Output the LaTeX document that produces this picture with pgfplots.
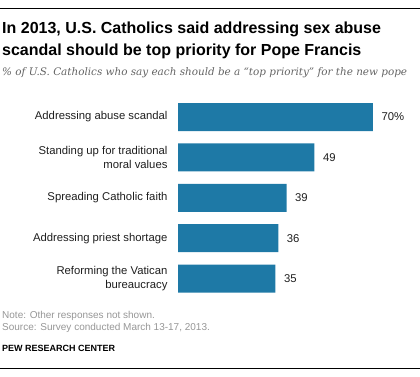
\documentclass[border=0pt]{standalone}
\usepackage{pgfplots}
\pgfplotsset{compat=1.18}
\usepackage{fontspec}
\setmainfont{Liberation Sans}
\newfontfamily\subfont{DejaVu Serif}
\definecolor{barblue}{RGB}{30,121,166}
\definecolor{notegray}{RGB}{150,150,150}
\definecolor{subgray}{RGB}{100,100,100}
\definecolor{labelgray}{RGB}{30,30,30}
\begin{document}
\begin{tikzpicture}[x=1pt,y=1pt]
\useasboundingbox (0,0) rectangle (420,376);
\draw[line width=1pt] (0,368) -- (420,368);
\node[anchor=base west, inner sep=0, font=\fontsize{16}{18}\selectfont\bfseries] at (2,376-33.5) {In 2013, U.S. Catholics said addressing sex abuse};
\node[anchor=base west, inner sep=0, font=\fontsize{16}{18}\selectfont\bfseries] at (2,376-55) {scandal should be top priority for Pope Francis};
\node[anchor=base west, inner sep=0, font=\subfont\itshape\fontsize{10.4}{12}\selectfont, text=subgray] at (2,376-75.5) {\% of U.S. Catholics who say each should be a “top priority” for the new pope};
\begin{axis}[
  at={(178pt,279.2pt)}, anchor=north west,
  scale only axis, width=195pt, height=202pt,
  xmin=0, xmax=70, ymin=-0.5, ymax=4.5, y dir=reverse,
  xbar, bar width=28pt, clip=false,
  axis line style={draw=none}, major tick length=0,
  xtick=\empty, ytick={0,1,2,3,4},
  yticklabels={{Addressing abuse scandal},{Standing up for traditional\\moral values},{Spreading Catholic faith},{Addressing priest shortage},{Reforming the Vatican\\bureaucracy}},
  yticklabel style={font=\fontsize{11.3}{13.5}\selectfont, align=right, text=labelgray, xshift=-7pt},
  point meta=explicit symbolic,
  nodes near coords,
  nodes near coords style={font=\fontsize{11.3}{13}\selectfont, text=labelgray, anchor=west, xshift=5pt},
]
\addplot[fill=barblue, draw=none] coordinates {(70,0) [70\%] (49,1) [49] (39,2) [39] (36,3) [36] (35,4) [35]};
\end{axis}
\node[anchor=base west, inner sep=0, font=\fontsize{10}{11}\selectfont, text=notegray] at (2,376-318.5) {Note: Other responses not shown.};
\node[anchor=base west, inner sep=0, font=\fontsize{10}{11}\selectfont, text=notegray] at (2,376-330) {Source: Survey conducted March 13-17, 2013.};
\node[anchor=base west, inner sep=0, font=\fontsize{9}{11}\selectfont\bfseries] at (2,376-351) {PEW RESEARCH CENTER};
\draw[line width=1pt] (0,376-368.3) -- (420,376-368.3);
\end{tikzpicture}
\end{document}
